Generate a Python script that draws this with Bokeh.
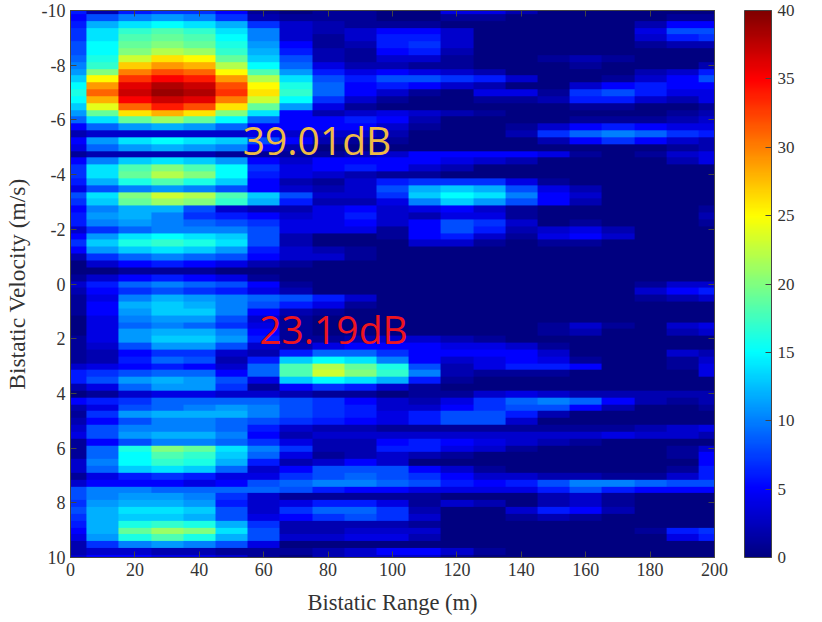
import numpy as np
from bokeh.document import Document
from bokeh.plotting import figure
from bokeh.models import Range1d, LinearColorMapper, ColorBar, FixedTicker, LinearAxis, Label, CustomJS
from bokeh.embed import file_html
from bokeh.resources import INLINE

# Bistatic range columns (m) and bistatic velocity rows (m/s), values in dB
range_m = [0, 10, 20, 30, 40, 50, 60, 70, 80, 90, 100, 110, 120, 130, 140, 150, 160, 170, 180, 190, 200]
velocity_step = 0.25
power_db = [
 [6,2,6,7,7,5,1,0,1,1,0,0,4,4,2,0,0,0,0,0,0],
 [5,8,10,11,10,7,2,1,1,1,0,0,1,1,0,0,0,0,0,1,1],
 [6,12,14,15,14,12,7,3,2,1,1,1,0,0,0,0,0,0,2,5,5],
 [7,14,17,18,17,14,10,3,2,3,5,5,3,0,0,0,0,0,4,8,8],
 [7,14,18,19,18,15,10,3,1,3,6,6,3,0,0,0,0,0,3,6,7],
 [8,15,19,20,19,16,11,5,1,2,6,7,3,0,0,0,0,0,1,2,2],
 [8,15,20,22,21,17,12,6,2,1,5,6,2,0,0,0,0,0,0,0,0],
 [9,16,23,26,25,19,13,8,2,1,3,3,1,0,0,1,2,1,0,0,0],
 [10,17,27,29,28,22,15,9,4,2,2,1,1,0,0,0,1,0,0,0,2],
 [11,20,30,32,31,25,18,11,6,4,5,4,3,2,0,0,0,0,2,3,6],
 [13,25,33,35,34,29,22,14,8,6,8,8,7,6,3,0,0,1,3,5,8],
 [15,29,36,38,37,32,25,16,9,5,6,5,3,2,0,0,3,5,6,5,5],
 [16,31,37,39,38,33,26,17,9,5,3,1,0,4,4,1,7,8,6,4,4],
 [15,28,35,37,36,30,23,15,7,3,1,0,0,1,1,2,6,6,3,2,4],
 [13,24,31,34,32,26,19,11,4,1,0,0,0,0,0,0,1,1,0,0,1],
 [11,19,26,28,26,20,14,5,2,3,4,3,2,1,0,0,0,0,0,1,2],
 [9,14,19,21,19,15,9,5,5,6,5,2,0,0,0,0,1,1,1,2,3],
 [5,9,11,12,11,9,5,5,5,5,3,1,0,0,1,3,5,6,5,4,4],
 [2,3,3,3,3,3,4,3,3,3,2,0,0,0,2,7,9,10,9,7,6],
 [5,11,14,15,14,13,8,5,2,1,1,0,0,0,0,2,5,7,5,3,2],
 [4,9,11,12,11,10,5,2,0,0,0,0,0,0,0,0,0,0,0,1,2],
 [1,2,2,2,2,1,1,1,1,2,3,5,5,5,5,4,1,0,1,3,4],
 [5,10,13,14,13,11,5,3,5,5,5,5,4,3,2,0,0,0,0,2,4],
 [7,14,18,20,18,15,7,4,5,6,5,3,2,0,0,0,0,0,0,0,0],
 [7,14,19,22,20,15,6,4,3,2,1,1,0,0,0,0,0,0,0,0,0],
 [6,12,16,18,16,13,5,2,1,3,6,7,7,7,4,1,0,0,0,0,0],
 [4,8,10,11,10,8,5,3,2,3,8,12,13,12,8,4,2,0,0,0,0],
 [8,14,20,23,22,18,13,8,3,3,7,13,15,14,10,5,3,0,0,0,0],
 [7,13,19,21,20,17,12,6,2,2,4,10,13,11,8,5,2,0,0,0,0],
 [5,10,12,12,8,3,2,2,4,5,3,4,5,3,1,0,0,0,0,0,1],
 [6,11,12,10,7,6,5,3,4,6,3,2,4,4,1,0,0,0,0,0,2],
 [6,10,11,10,9,8,7,4,4,5,3,5,8,7,3,0,1,0,0,0,1],
 [3,7,9,10,10,10,8,4,4,4,1,5,8,6,2,3,4,2,0,0,0],
 [5,11,14,15,14,13,8,2,0,0,1,5,6,3,1,4,5,3,0,0,0],
 [7,13,16,17,16,14,8,2,0,0,0,3,3,1,0,1,1,0,0,0,0],
 [5,11,13,14,13,11,6,3,2,1,0,0,0,0,0,0,0,0,0,0,0],
 [2,7,9,10,9,8,5,3,3,1,0,0,0,0,0,0,0,0,0,0,0],
 [0,3,5,6,5,4,2,1,0,0,0,0,0,0,0,0,0,0,0,0,0],
 [0,0,1,1,1,0,0,0,0,0,0,0,0,0,0,0,0,0,0,0,0],
 [1,3,5,6,5,4,1,0,0,0,0,0,0,0,0,0,0,0,0,0,0],
 [3,6,9,10,9,8,5,1,0,0,0,0,0,0,0,0,0,0,1,3,3],
 [2,5,7,8,7,6,4,2,0,0,0,0,0,0,0,0,0,0,3,5,6],
 [1,4,10,12,11,10,9,8,6,3,0,0,0,0,0,0,0,0,1,2,3],
 [1,5,12,13,12,10,8,6,4,1,0,0,0,0,0,0,0,0,0,0,0],
 [1,5,11,13,13,10,5,2,1,0,0,0,0,0,0,0,0,0,0,0,0],
 [0,4,10,11,11,8,3,1,0,0,0,0,0,0,0,0,0,0,0,0,0],
 [0,4,9,10,9,7,4,1,0,0,0,0,0,0,0,1,3,1,0,3,4],
 [0,4,11,12,12,10,5,1,0,0,0,0,0,0,0,1,2,0,0,2,3],
 [1,4,11,13,13,11,6,1,1,2,3,3,2,1,0,0,0,0,0,0,0],
 [1,3,8,11,11,8,3,2,4,5,5,5,4,4,3,1,0,0,0,0,0],
 [1,2,5,7,7,3,2,6,9,9,7,5,5,5,5,3,0,0,0,3,2],
 [1,2,6,9,8,2,6,13,15,14,10,5,3,4,5,4,1,0,0,1,3],
 [3,4,5,6,5,3,9,18,22,19,16,8,2,4,6,6,5,0,0,1,4],
 [6,7,8,9,9,5,9,18,23,20,17,10,2,1,1,1,0,0,0,0,4],
 [6,8,11,12,11,8,4,13,15,14,12,6,1,0,0,0,0,0,0,0,0],
 [2,4,9,11,11,7,1,5,7,6,3,1,0,0,0,0,0,0,0,0,0],
 [0,1,3,4,4,3,3,2,1,1,0,1,1,3,4,3,2,2,2,2,2],
 [5,6,7,9,9,9,9,8,7,5,3,2,4,7,9,10,9,5,2,1,2],
 [2,4,8,9,10,11,10,8,7,6,3,3,5,7,8,8,5,2,0,0,1],
 [1,7,11,12,12,12,10,8,7,6,4,6,8,8,6,2,0,0,0,0,0],
 [2,5,8,10,10,9,8,7,6,5,4,6,8,8,3,0,0,0,0,0,0],
 [3,8,10,10,10,9,6,3,2,2,1,1,1,1,1,1,1,1,2,3,4],
 [4,8,11,12,12,10,5,2,3,3,3,3,3,3,3,3,3,4,3,3,2],
 [1,5,8,10,10,9,7,4,2,2,5,6,5,4,3,2,1,0,0,0,0],
 [1,9,16,20,19,14,10,7,2,2,6,6,4,3,1,0,0,0,0,1,3],
 [1,9,15,18,17,13,9,4,1,2,3,2,1,0,0,0,0,0,0,1,5],
 [3,10,15,17,16,12,6,2,3,5,3,0,0,0,0,0,0,0,0,0,5],
 [3,9,13,14,13,9,3,5,8,8,8,5,3,1,0,0,0,0,0,1,6],
 [1,4,6,7,6,4,4,7,8,9,8,7,5,3,3,2,2,1,1,3,6],
 [3,5,5,5,4,5,8,9,10,10,9,8,6,5,6,8,10,10,9,8,8],
 [8,10,10,9,9,9,9,8,6,5,5,4,4,4,4,6,8,6,5,5,5],
 [8,10,11,11,10,7,3,1,1,1,1,1,0,0,0,2,3,1,0,0,0],
 [7,11,12,12,11,6,3,4,6,6,4,1,3,2,0,2,3,1,0,0,0],
 [8,12,14,14,13,8,3,7,9,9,7,2,0,0,3,6,5,2,0,0,0],
 [7,12,13,13,12,8,4,5,7,8,7,3,0,0,1,2,1,0,0,0,0],
 [6,12,16,17,16,12,7,2,2,2,2,1,0,0,0,0,0,0,0,0,0],
 [5,12,19,21,20,14,8,2,2,3,3,3,0,0,0,0,0,0,1,6,7],
 [4,11,16,18,16,12,8,3,3,4,4,2,0,0,0,0,0,0,0,4,6],
 [2,7,10,11,10,8,4,0,0,0,0,0,0,0,0,0,0,0,0,0,0],
 [2,3,3,2,2,1,1,1,2,3,5,5,3,1,0,0,0,0,0,0,0],
 [3,5,5,4,4,3,1,0,2,3,3,3,1,0,0,0,0,0,0,0,0],
]

x_ticks = [0, 20, 40, 60, 80, 100, 120, 140, 160, 180, 200]
y_ticks = [-10, -8, -6, -4, -2, 0, 2, 4, 6, 8, 10]
cbar_ticks = [0, 5, 10, 15, 20, 25, 30, 35, 40]
annotations = ["39.01dB", "23.19dB"]

# MATLAB jet colormap, as a palette
def jet(t):
    def ch(c):
        return int(round(255 * max(0.0, min(1.0, 1.5 - abs(4 * t - c)))))
    return "#%02x%02x%02x" % (ch(3), ch(2), ch(1))
palette = [jet(i / 255) for i in range(256)]

SERIF = "Liberation Serif"
INK = "#333333"

p = figure(frame_width=644, frame_height=547, width=814, height=614,
           x_range=Range1d(0, 200), y_range=Range1d(10, -10),
           output_backend="svg", toolbar_location=None,
           min_border_left=70, min_border_top=10, min_border_right=100, min_border_bottom=57,
           x_axis_label="Bistatic Range (m)", y_axis_label="Bistatic Velocity (m/s)")
p.grid.visible = False
p.outline_line_color = "#444444"

mapper = LinearColorMapper(palette=palette, low=0, high=40)
nrows = len(power_db)
ncols = len(range_m)
dx = range_m[1] - range_m[0]
p.image(image=[np.array(power_db, dtype=float)],
        x=range_m[0] - dx / 2, y=-10 - velocity_step / 2,
        dw=dx * ncols, dh=velocity_step * nrows, color_mapper=mapper)

for ax, ticks, label_size, standoff in ((p.xaxis[0], x_ticks, "22.5px", 11), (p.yaxis[0], y_ticks, "23.5px", 9)):
    ax.ticker = FixedTicker(ticks=ticks)
    ax.major_label_overrides = {t: str(t) for t in ticks}
    ax.major_tick_in = 6
    ax.major_tick_out = 0
    ax.minor_tick_line_color = None
    ax.axis_line_color = "#444444"
    ax.major_tick_line_color = "#444444"
    ax.major_label_text_font = SERIF
    ax.major_label_text_font_size = "18px"
    ax.major_label_text_color = INK
    ax.major_label_standoff = 5
    ax.axis_label_text_font = SERIF
    ax.axis_label_text_font_style = "normal"
    ax.axis_label_text_font_size = label_size
    ax.axis_label_text_color = INK
    ax.axis_label_standoff = standoff

for side, ticks in (("above", x_ticks), ("right", y_ticks)):
    ax = LinearAxis(ticker=FixedTicker(ticks=ticks), major_tick_in=6, major_tick_out=0,
                    minor_tick_line_color=None, major_label_text_font_size="1px",
                    major_label_overrides={t: "" for t in ticks},
                    major_label_standoff=0, axis_line_color="#444444",
                    major_tick_line_color="#444444")
    p.add_layout(ax, side)

cb = ColorBar(color_mapper=mapper, width=27, height=547, padding=0, margin=0,
              ticker=FixedTicker(ticks=cbar_ticks),
              major_tick_in=6, major_tick_line_color="#444444", minor_tick_line_color=None,
              bar_line_color="#444444", label_standoff=6,
              major_label_text_font=SERIF, major_label_text_font_size="17px",
              major_label_text_color=INK, location=(30, 0))
p.add_layout(cb, "right")

# axis that only carries the colour bar's rotated label
db_axis = LinearAxis(ticker=FixedTicker(ticks=[]), axis_label="dB", axis_line_color=None,
                     major_tick_line_color=None, minor_tick_line_color=None,
                     axis_label_text_font=SERIF, axis_label_text_font_style="normal",
                     axis_label_text_font_size="17px", axis_label_text_color=INK,
                     axis_label_standoff=40)
p.add_layout(db_axis, "right")

p.add_layout(Label(x=53.5, y=-5.3, text=annotations[0], text_font="Open Sans",
                   text_font_size="39px", text_color="#EFBB45", text_baseline="middle"))
p.add_layout(Label(x=58.6, y=1.63, text=annotations[1], text_font="Open Sans",
                   text_font_size="39px", text_color="#EE1520", text_baseline="middle"))

# let the browser draw the svg image with its default smooth scaling
smooth = CustomJS(code="""
const fix = (root) => {
  root.querySelectorAll('*').forEach((el) => {
    if (el.tagName.toLowerCase() === 'image') {
      el.removeAttribute('image-rendering');
      el.style.imageRendering = 'auto';
    }
    if (el.shadowRoot) fix(el.shadowRoot);
  });
};
fix(document);
setInterval(() => fix(document), 100);
""")
doc = Document()
doc.add_root(p)
doc.js_on_event("document_ready", smooth)

open("out.html", "w").write(file_html(p, INLINE))
